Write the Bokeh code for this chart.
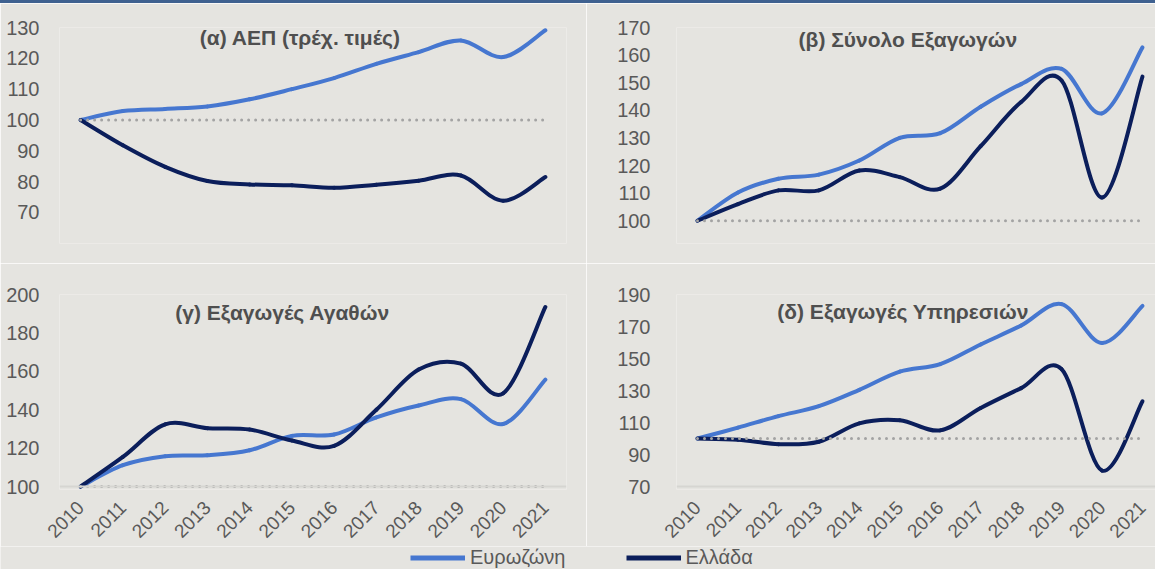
import math
from bokeh.plotting import figure
from bokeh.layouts import column, row
from bokeh.models import (Range1d, FixedTicker, Span, Label, Legend, LegendItem,
                          ColumnDataSource, Div)
from bokeh.embed import file_html
from bokeh.resources import INLINE

# ---------------- data ----------------
years = [2010, 2011, 2012, 2013, 2014, 2015, 2016, 2017, 2018, 2019, 2020, 2021]

gdp_ez = [100, 102.9, 103.6, 104.4, 106.7, 110.0, 113.6, 118.2, 122.0, 125.8, 120.4, 129.1]
gdp_gr = [100, 91.8, 84.8, 80.2, 79.1, 78.8, 78.0, 79.0, 80.3, 82.0, 73.8, 81.5]

exp_ez = [100, 110.2, 115.2, 116.7, 121.8, 130.0, 131.7, 141.3, 149.5, 155.0, 138.9, 162.8]
exp_gr = [100, 106.0, 111.0, 111.0, 118.2, 115.8, 111.6, 127.0, 143.0, 150.8, 108.4, 152.2]

goods_ez = [100, 111.1, 115.8, 116.3, 118.9, 126.4, 127.1, 136.0, 142.2, 145.5, 132.6, 155.7]
goods_gr = [100, 115.4, 132.4, 130.4, 129.7, 124.0, 121.2, 140.0, 160.9, 164.0, 148.5, 193.5]

serv_ez = [100, 106.8, 114.0, 120.2, 130.4, 141.8, 146.5, 158.8, 170.6, 184.0, 159.7, 182.9]
serv_gr = [100, 99.3, 96.5, 98.0, 109.5, 111.4, 105.1, 119.1, 131.5, 143.4, 80.0, 123.3]

baseline = 100
series_names = ["Ευρωζώνη", "Ελλάδα"]
titles = ["(α) ΑΕΠ (τρέχ. τιμές)", "(β) Σύνολο Εξαγωγών",
          "(γ) Εξαγωγές Αγαθών", "(δ) Εξαγωγές Υπηρεσιών"]
ticks_a = [70, 80, 90, 100, 110, 120, 130]
ticks_b = [100, 110, 120, 130, 140, 150, 160, 170]
ticks_c = [100, 120, 140, 160, 180, 200]
ticks_d = [70, 90, 110, 130, 150, 170, 190]

# ---------------- style ----------------
BG = "#E5E4E0"
EZ_COLOR = "#4677D0"
GR_COLOR = "#0B1E5B"
TXT = "#595959"
FONT = "Liberation Sans"


def smooth_source(xs, ys):
    """Bezier segments (Catmull-Rom style, like a spreadsheet 'smoothed line')."""
    n = len(xs)
    d = dict(x0=[], y0=[], x1=[], y1=[], cx0=[], cy0=[], cx1=[], cy1=[])
    for i in range(n - 1):
        pa = (xs[max(i - 1, 0)], ys[max(i - 1, 0)])
        p1 = (xs[i], ys[i])
        p2 = (xs[i + 1], ys[i + 1])
        pb = (xs[min(i + 2, n - 1)], ys[min(i + 2, n - 1)])
        d["x0"].append(p1[0]); d["y0"].append(p1[1])
        d["x1"].append(p2[0]); d["y1"].append(p2[1])
        d["cx0"].append(p1[0] + (p2[0] - pa[0]) / 6.0)
        d["cy0"].append(p1[1] + (p2[1] - pa[1]) / 6.0)
        d["cx1"].append(p2[0] - (pb[0] - p1[0]) / 6.0)
        d["cy1"].append(p2[1] - (pb[1] - p1[1]) / 6.0)
    return ColumnDataSource(d)


def panel(width, height, borders, xr, yr, yticks, title, title_pos, ez, gr,
          show_x, axis_line_at=None, ystandoff=14):
    l, r, t, b = borders
    p = figure(width=width, height=height, x_range=Range1d(*xr), y_range=Range1d(*yr),
               toolbar_location=None, output_backend="svg",
               min_border_left=l, min_border_right=r, min_border_top=t, min_border_bottom=b)
    p.background_fill_color = BG
    p.border_fill_color = BG
    p.outline_line_color = None
    p.grid.visible = False

    p.yaxis.ticker = FixedTicker(ticks=yticks)
    p.yaxis.axis_line_color = None
    p.yaxis.major_tick_line_color = None
    p.yaxis.minor_tick_line_color = None
    p.yaxis.major_label_text_font = FONT
    p.yaxis.major_label_text_font_size = "20px"
    p.yaxis.major_label_text_color = TXT
    p.yaxis.major_label_standoff = ystandoff

    if show_x:
        p.xaxis.ticker = FixedTicker(ticks=years)
        p.xaxis.axis_line_color = None
        p.xaxis.major_tick_line_color = None
        p.xaxis.minor_tick_line_color = None
        p.xaxis.major_label_text_font = FONT
        p.xaxis.major_label_text_font_size = "19px"
        p.xaxis.major_label_text_color = TXT
        p.xaxis.major_label_orientation = math.pi / 4
        p.xaxis.major_label_standoff = 9
    else:
        p.xaxis.visible = False

    if axis_line_at is not None:
        p.add_layout(Span(location=axis_line_at, dimension="width",
                          line_color="#D6D5D1", line_width=2))

    p.bezier(x0="x0", y0="y0", x1="x1", y1="y1", cx0="cx0", cy0="cy0",
             cx1="cx1", cy1="cy1", source=smooth_source(years, ez),
             line_color=EZ_COLOR, line_width=4, line_cap="round")
    p.bezier(x0="x0", y0="y0", x1="x1", y1="y1", cx0="cx0", cy0="cy0",
             cx1="cx1", cy1="cy1", source=smooth_source(years, gr),
             line_color=GR_COLOR, line_width=4, line_cap="round")

    p.line(x=[years[0], years[-1]], y=[baseline, baseline], line_color="#A3A3A3",
           line_width=3, line_dash="0 7", line_cap="round")

    p.add_layout(Label(x=title_pos[0], y=title_pos[1], text=title,
                       text_align="center", text_baseline="middle",
                       text_font=FONT, text_font_style="bold",
                       text_font_size="21px", text_color="#4F4F4F"))
    return p


TOP = 3  # thin dark-blue strip at the very top

# right-hand panels: 2010 at x=697, 2021 at x=1142
RPX = (1142 - 697) / 11.0
r_xr = (2010 - 21 / RPX, 2010 + (1155 - 697) / RPX)

# top-left (α)
p1 = panel(586, 260, (59, 20, 27 - TOP, 20), (2009.5, 2021.5), (130 - 216 / 3.083, 130),
           ticks_a, titles[0], (2015.2, 126.8), gdp_ez, gdp_gr, False)
# top-right (β)
p2 = panel(569, 260, (90, 0, 25 - TOP, 20), r_xr, (170 - 218 / 2.786, 170),
           ticks_b, titles[1], (2015.2, 165.7), exp_ez, exp_gr, False, ystandoff=20)
# bottom-left (γ)
p3 = panel(586, 283, (59, 20, 30, 55), (2009.5, 2021.5), (200 - 198 / 1.95, 200),
           ticks_c, titles[2], (2014.78, 190.8), goods_ez, goods_gr, True,
           axis_line_at=100)
# bottom-right (δ)
p4 = panel(569, 283, (90, 0, 31, 54), r_xr, (190 - 198 / 1.625, 190),
           ticks_d, titles[3], (2015.08, 179.5), serv_ez, serv_gr, True,
           axis_line_at=70, ystandoff=20)

# legend strip
LEG_H = 23
lf = figure(width=1155, height=LEG_H, x_range=Range1d(0, 1), y_range=Range1d(0, 1),
            toolbar_location=None, output_backend="svg", min_border=0)
lf.background_fill_color = BG
lf.border_fill_color = BG
lf.outline_line_color = None
lf.grid.visible = False
lf.axis.visible = False
# one-point proxy lines (draw nothing themselves, give the legend its samples)
r_ez = lf.line(x=[-1], y=[-1], line_color=EZ_COLOR, line_width=5)
r_gr = lf.line(x=[-1], y=[-1], line_color=GR_COLOR, line_width=5)
leg = Legend(items=[LegendItem(label=series_names[0], renderers=[r_ez]),
                    LegendItem(label=series_names[1], renderers=[r_gr])],
             orientation="horizontal", location=(410, 0), padding=0, margin=0,
             spacing=60, glyph_width=55, glyph_height=LEG_H, label_standoff=5,
             label_text_font=FONT, label_text_font_size="20px",
             label_text_color=TXT, background_fill_alpha=0, border_line_alpha=0,
             label_height=LEG_H)
lf.add_layout(leg)

# top strip
strip = Div(text="", width=1155, height=TOP, margin=0,
            styles={"background-color": "#3F6190"})

layout = column(strip, row(p1, p2), row(p3, p4), lf)
open("out.html", "w").write(file_html(layout, INLINE))
